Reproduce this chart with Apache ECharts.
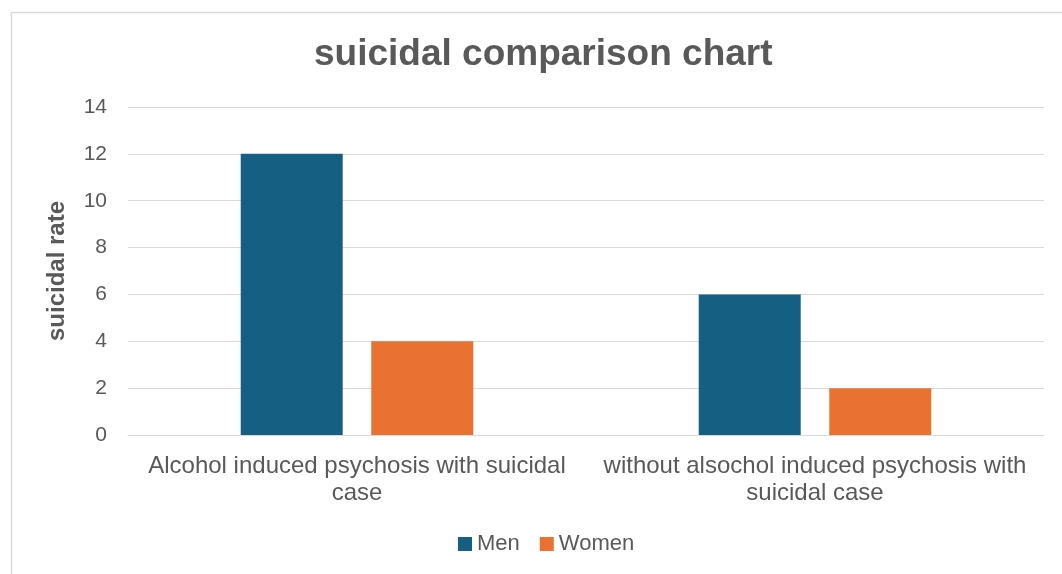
<!DOCTYPE html>
<html>
<head>
<meta charset="utf-8">
<script src="https://cdn.jsdelivr.net/npm/echarts@6/dist/echarts.min.js"></script>
<style>html,body{margin:0;padding:0;background:#fff;}#c{width:1062px;height:574px;}</style>
</head>
<body>
<div id="c"></div>
<script>
const categories = ["Alcohol induced psychosis with suicidal\ncase", "without alsochol induced psychosis with\nsuicidal case"];
const men = [12, 6];
const women = [4, 2];
const seriesNames = ["Men", "Women"];

const chart = echarts.init(document.getElementById('c'));
const font = "'Liberation Sans', Arial, sans-serif";
chart.setOption({
  backgroundColor: '#fff',
  animation: false,
  graphic: [{
    type: 'rect', left: 9, top: 10,
    shape: { width: 1100, height: 620 },
    style: { fill: 'none', stroke: '#d9d9d9', lineWidth: 1.5 }, silent: true
  }],
  title: {
    text: 'suicidal comparison chart', left: 309, top: 31,
    textStyle: { fontFamily: font, fontSize: 37, fontWeight: 'bold', color: '#595959' }
  },
  legend: {
    top: 528, left: 453, itemWidth: 14, itemHeight: 14, itemGap: 20,
    icon: 'rect',
    textStyle: { fontFamily: font, fontSize: 22, color: '#595959' },
    data: seriesNames
  },
  grid: { left: 128, right: 18, top: 107, bottom: 139, containLabel: false },
  xAxis: {
    type: 'category', data: categories,
    axisLine: { lineStyle: { color: '#d9d9d9', width: 1 } },
    axisTick: { show: false },
    axisLabel: { fontFamily: font, fontSize: 24, color: '#595959', lineHeight: 27, margin: 18, interval: 0 }
  },
  yAxis: {
    type: 'value', min: 0, max: 14, interval: 2,
    name: 'suicidal rate', nameLocation: 'middle', nameGap: 59, nameRotate: 90,
    nameTextStyle: { fontFamily: font, fontSize: 24, fontWeight: 'bold', color: '#595959' },
    axisLine: { show: false }, axisTick: { show: false },
    axisLabel: { fontFamily: font, fontSize: 21, color: '#595959', margin: 21 },
    splitLine: { lineStyle: { color: '#d9d9d9', width: 1 } }
  },
  series: [
    { name: seriesNames[0], type: 'bar', data: men, barWidth: 102, barGap: '28%', itemStyle: { color: '#156082' } },
    { name: seriesNames[1], type: 'bar', data: women, barWidth: 102, itemStyle: { color: '#E97132' } }
  ]
});
</script>
</body>
</html>
